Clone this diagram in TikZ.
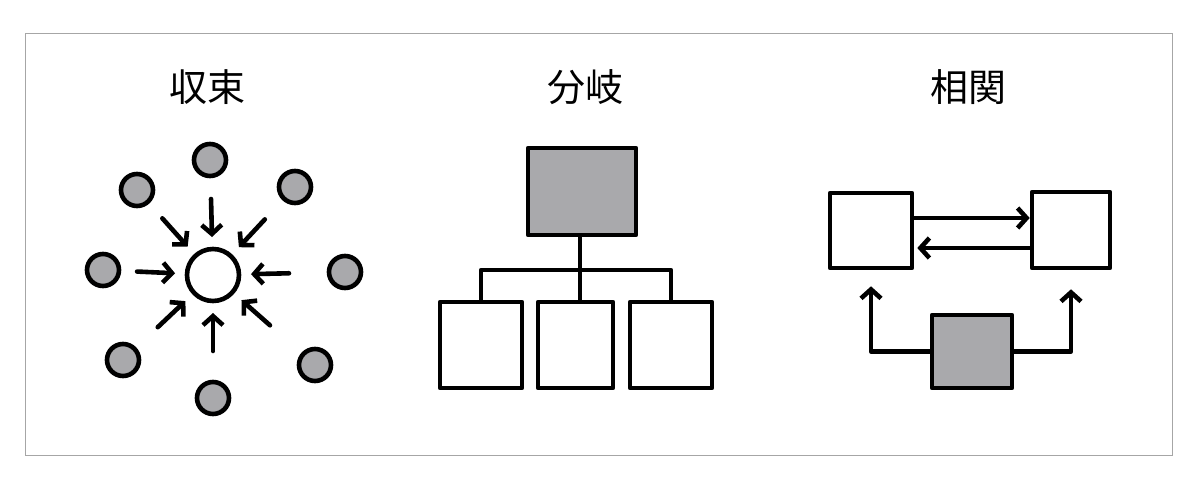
\documentclass[tikz,border=0pt]{standalone}
\usepackage{fontspec}
\newfontfamily\cjk{Noto Sans CJK JP}
\usetikzlibrary{arrows.meta,calc}
\definecolor{fillg}{HTML}{A9A9AC}
\begin{document}
\begin{tikzpicture}[x=1pt,y=-1pt,
  ln/.style={line width=4.6pt,line cap=round,line join=round},
  arr/.style={ln,-{Straight Barb[length=9pt,width=20pt,line width=4.6pt]}},
  gbox/.style={ln,fill=fillg},
  wbox/.style={ln,fill=white},
  dot/.style={ln,fill=fillg,circle,minimum size=32pt,inner sep=0pt},
  ttl/.style={font=\cjk\fontsize{38}{40}\selectfont}]
\useasboundingbox (0,0) rectangle (1200,487);
\draw[gray!70,line width=0.8pt] (25,33) rectangle (1172,455);
\node[ttl] (t1) at (207,87) {収束};
\node[ttl] (t2) at (585,87) {分岐};
\node[ttl] (t3) at (968,87) {相関};
% convergence
\node[ln,draw,circle,minimum size=52pt,inner sep=0pt] (c) at (213,275) {};
\foreach \n/\x/\y in {a/210/160,b/137/190,d/295/187,e/103/270,f/345/272,g/123/360,h/315/365,i/213/398}{
  \node[dot,draw] (\n) at (\x,\y) {};
  \draw[arr] ($(c)!76pt!(\n)$) -- ($(c)!38pt!(\n)$);
}
% branch
\node[gbox,draw,minimum width=108pt,minimum height=87pt] (top) at (582,191.5) {};
\node[wbox,draw,minimum width=82pt,minimum height=86pt] (b1) at (481,345) {};
\node[wbox,draw,minimum width=75pt,minimum height=86pt] (b2) at (575.5,345) {};
\node[wbox,draw,minimum width=82pt,minimum height=86pt] (b3) at (671,345) {};
\coordinate (j) at (580,270);
\draw[ln] (top.south -| j) -- (j);
\draw[ln] (b1.north) |- (j) -| (b3.north);
\draw[ln] (j) -- (j |- b2.north);
% correlation
\node[wbox,draw,minimum width=82pt,minimum height=75pt] (l) at (871,230.5) {};
\node[wbox,draw,minimum width=78pt,minimum height=76pt] (r) at (1071,230) {};
\node[gbox,draw,minimum width=80pt,minimum height=73pt] (m) at (972,351.5) {};
\draw[arr] (l.east |- 0,218) -- (r.west |- 0,218);
\draw[arr] (r.west |- 0,248) -- ([xshift=3pt]l.east |- 0,248);
\draw[arr] (m.west) -| ([yshift=-16pt]l.south);
\draw[arr] (m.east) -| ([yshift=-19pt]r.south);
\end{tikzpicture}
\end{document}
